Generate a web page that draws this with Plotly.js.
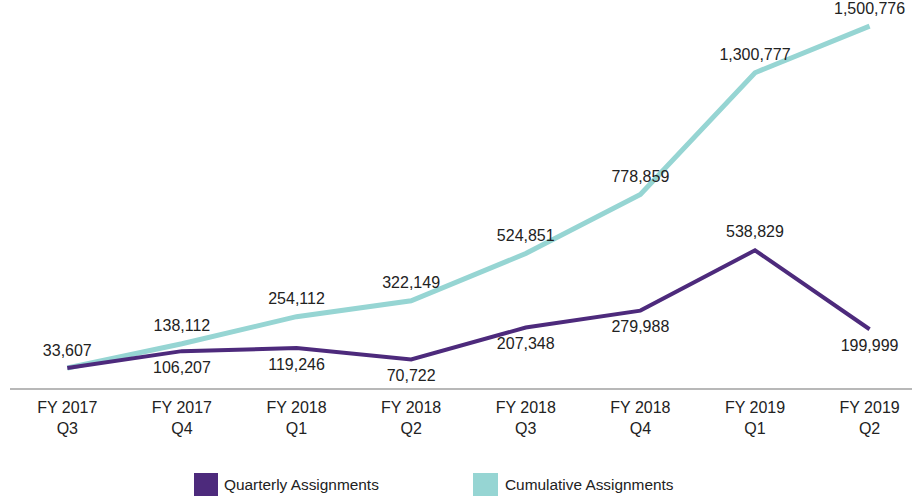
<!DOCTYPE html>
<html>
<head>
<meta charset="utf-8">
<script src="https://cdn.plot.ly/plotly-3.0.1.min.js"></script>
<style>html,body{margin:0;padding:0;background:#fff;}#chart{width:912px;height:496px;}</style>
</head>
<body>
<div id="chart"></div>
<script>
const categories = ["FY 2017<br>Q3","FY 2017<br>Q4","FY 2018<br>Q1","FY 2018<br>Q2","FY 2018<br>Q3","FY 2018<br>Q4","FY 2019<br>Q1","FY 2019<br>Q2"];
const quarterly = [33607,106207,119246,70722,207348,279988,538829,199999];
const cumulative = [33607,138112,254112,322149,524851,778859,1300777,1500776];
const quarterlyLabelPos = ["top center","bottom center","bottom center","bottom center","bottom center","bottom center","top center","bottom center"];
const quarterlyLabelShow = [false,true,true,true,true,true,true,true];

const purple = "#4d2a7c";
const teal = "#96d5d3";
const font = "Liberation Sans, Arial, sans-serif";

const traces = [
  {
    x: categories, y: cumulative, type: "scatter", mode: "lines+markers+text",
    line: {color: teal, width: 5},
    marker: {size: 12, opacity: 0, color: teal},
    texttemplate: "%{y:,}", textposition: "top center",
    textfont: {family: font, size: 16, color: "#222"},
    showlegend: false, hoverinfo: "skip", cliponaxis: false
  },
  {
    x: categories, y: quarterly, type: "scatter", mode: "lines+markers+text",
    line: {color: purple, width: 4},
    marker: {size: 14, opacity: 0, color: purple},
    texttemplate: quarterlyLabelShow.map(s => s ? "%{y:,}" : ""),
    textposition: quarterlyLabelPos,
    textfont: {family: font, size: 16, color: "#222"},
    showlegend: false, hoverinfo: "skip", cliponaxis: false
  }
];

const L = 10, T = 10, W = 902, H = 378;
const px = x => (x - L) / W;
const py = y => (T + H - y) / H;

const layout = {
  width: 912, height: 496,
  margin: {l: L, r: 0, t: T, b: 496 - T - H},
  paper_bgcolor: "#fff", plot_bgcolor: "#fff",
  font: {family: font, color: "#222"},
  xaxis: {
    type: "category", range: [-0.5, 7.37],
    showgrid: false, zeroline: false,
    showline: true, linecolor: "#b8b8b8", linewidth: 1.5,
    ticks: "", ticklabelstandoff: 4,
    tickfont: {family: font, size: 16, color: "#222"}
  },
  yaxis: {
    range: [-52000, 1570000], visible: false, showgrid: false, zeroline: false
  },
  shapes: [
    {type: "rect", xref: "paper", yref: "paper", x0: px(194), x1: px(218), y0: py(473), y1: py(496), fillcolor: purple, line: {width: 0}},
    {type: "rect", xref: "paper", yref: "paper", x0: px(473), x1: px(498), y0: py(473), y1: py(496), fillcolor: teal, line: {width: 0}}
  ],
  annotations: [
    {xref: "paper", yref: "paper", x: px(222), y: py(484.5), xanchor: "left", yanchor: "middle", text: "Quarterly Assignments", showarrow: false, font: {family: font, size: 15.4, color: "#222"}},
    {xref: "paper", yref: "paper", x: px(503), y: py(484.5), xanchor: "left", yanchor: "middle", text: "Cumulative Assignments", showarrow: false, font: {family: font, size: 15.4, color: "#222"}}
  ]
};

Plotly.newPlot("chart", traces, layout, {displayModeBar: false, staticPlot: true});
</script>
</body>
</html>
